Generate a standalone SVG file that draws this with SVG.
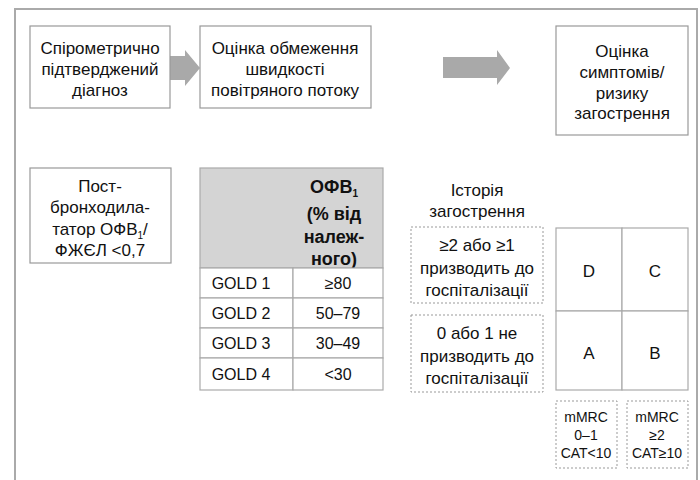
<svg xmlns="http://www.w3.org/2000/svg" width="700" height="480" viewBox="0 0 700 480">
<style>
text{font-family:"Liberation Sans","DejaVu Sans",sans-serif;fill:#111;text-anchor:middle;font-size:17px}
.box{fill:#fff;stroke:#999;stroke-width:1.2}
.dash{fill:#fff;stroke:#999;stroke-width:1;stroke-dasharray:2 2}
.tb{fill:#fff;stroke:#aaa;stroke-width:1.2}
.arrow{fill:#a9a9a9}
.b{font-weight:bold;font-size:18px}
.t{font-size:16px}
.s{font-size:14px}
.sub{font-size:10px}
</style>
<rect x="0" y="0" width="700" height="480" fill="#fff"/>
<path d="M15,485 V9 H697 V485" fill="none" stroke="#aaa" stroke-width="2"/>
<g id="connectors">
<polygon class="arrow" points="170,56 185,56 185,50 200,68 185,86 185,80 170,80"/>
<polygon class="arrow" points="443,57 497,57 497,50 510,68 497,85 497,78 443,78"/>
</g>
<g id="n1">
<rect class="box" x="30" y="26" width="140" height="82"/>
<text x="100" y="54">Спірометрично</text>
<text x="100" y="75">підтверджений</text>
<text x="100" y="96">діагноз</text>
</g>
<g id="n2">
<rect class="box" x="200" y="26" width="171" height="82"/>
<text x="285" y="54">Оцінка обмеження</text>
<text x="285" y="75">швидкості</text>
<text x="285" y="96">повітряного потоку</text>
</g>
<g id="n3">
<rect class="box" x="556" y="26" width="132" height="109"/>
<text x="622" y="57">Оцінка</text>
<text x="622" y="78">симптомів/</text>
<text x="622" y="99">ризику</text>
<text x="622" y="119">загострення</text>
</g>
<g id="n4">
<rect class="box" x="30" y="168" width="141" height="95"/>
<text x="100" y="192">Пост-</text>
<text x="100" y="213">бронходила-</text>
<text x="100" y="235">татор ОФВ<tspan class="sub" dy="4">1</tspan><tspan dy="-4">/</tspan></text>
<text x="100" y="256">ФЖЄЛ &lt;0,7</text>
</g>
<g id="table">
<rect x="200" y="168" width="183" height="100" fill="#d4d4d4" stroke="#aaa" stroke-width="1.2"/>
<text class="b" x="334" y="193">ОФВ<tspan class="sub" dy="4">1</tspan></text>
<text class="b" x="334" y="220">(% від</text>
<text class="b" x="334" y="243">належ-</text>
<text class="b" x="334" y="265">ного)</text>
<rect class="tb" x="200" y="268" width="93" height="30"/>
<rect class="tb" x="293" y="268" width="90" height="30"/>
<rect class="tb" x="200" y="298" width="93" height="30"/>
<rect class="tb" x="293" y="298" width="90" height="30"/>
<rect class="tb" x="200" y="328" width="93" height="30"/>
<rect class="tb" x="293" y="328" width="90" height="30"/>
<rect class="tb" x="200" y="358" width="93" height="32"/>
<rect class="tb" x="293" y="358" width="90" height="32"/>
<text class="t" x="241" y="289">GOLD 1</text><text class="t" x="338" y="289">≥80</text>
<text class="t" x="241" y="319">GOLD 2</text><text class="t" x="338" y="319">50–79</text>
<text class="t" x="241" y="349">GOLD 3</text><text class="t" x="338" y="349">30–49</text>
<text class="t" x="241" y="380">GOLD 4</text><text class="t" x="338" y="380">&lt;30</text>
</g>
<g id="history">
<text x="477" y="196">Історія</text>
<text x="477" y="217">загострення</text>
</g>
<g id="exac-high">
<rect class="dash" x="411" y="227" width="132" height="76"/>
<text x="477" y="251">≥2 або ≥1</text>
<text x="477" y="274">призводить до</text>
<text x="477" y="296">госпіталізації</text>
</g>
<g id="exac-low">
<rect class="dash" x="411" y="315" width="132" height="77"/>
<text x="477" y="339">0 або 1 не</text>
<text x="477" y="362">призводить до</text>
<text x="477" y="384">госпіталізації</text>
</g>
<g id="grid">
<rect class="tb" x="556" y="228" width="66" height="83"/>
<rect class="tb" x="622" y="228" width="66" height="83"/>
<rect class="tb" x="556" y="311" width="66" height="79"/>
<rect class="tb" x="622" y="311" width="66" height="79"/>
<text x="589" y="277">D</text>
<text x="655" y="277">C</text>
<text x="589" y="359">A</text>
<text x="655" y="359">B</text>
</g>
<g id="mmrc-low">
<rect class="dash" x="556" y="401" width="61" height="67"/>
<text class="s" x="586" y="422">mMRC</text>
<text class="s" x="586" y="440">0–1</text>
<text class="s" x="586" y="458">CAT&lt;10</text>
</g>
<g id="mmrc-high">
<rect class="dash" x="627" y="401" width="61" height="67"/>
<text class="s" x="657" y="422">mMRC</text>
<text class="s" x="657" y="440">≥2</text>
<text class="s" x="657" y="458">CAT≥10</text>
</g>
</svg>
